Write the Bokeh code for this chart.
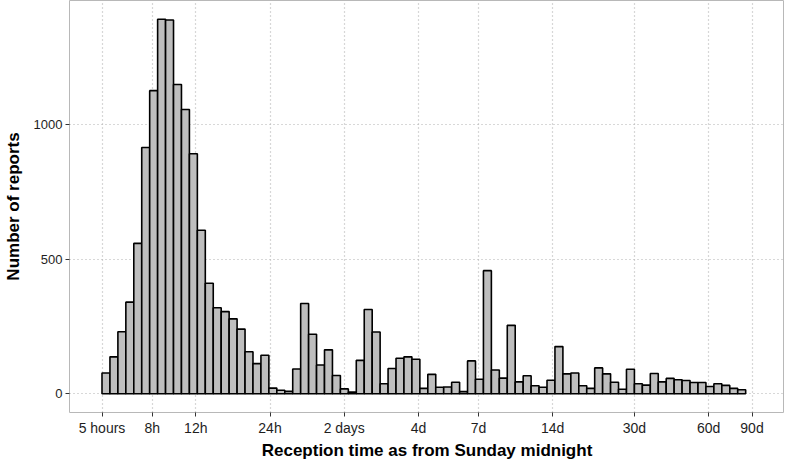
from bokeh.plotting import figure
from bokeh.models import FixedTicker, Range1d, Title
from bokeh.embed import file_html
from bokeh.resources import INLINE
import math

# ---- data ----
bin_start_hours = 5.0
bin_log10_width = 0.03222
counts = [77, 137, 230, 340, 558, 914, 1125, 1390, 1387, 1148,
          1055, 891, 607, 410, 319, 305, 278, 240, 156, 112,
          143, 21, 13, 9, 92, 335, 221, 107, 163, 68,
          18, 6, 124, 313, 229, 37, 94, 132, 137, 128,
          20, 72, 24, 25, 43, 8, 122, 54, 457, 88,
          58, 254, 44, 67, 30, 24, 50, 175, 74, 77,
          30, 20, 96, 74, 43, 17, 91, 37, 32, 75,
          44, 57, 52, 49, 42, 42, 27, 37, 31, 20, 15]
tick_hours = [5, 8, 12, 24, 48, 96, 168, 336, 720, 1440, 2160]
tick_labels = ["5 hours", "8h", "12h", "24h", "2 days", "4d", "7d", "14d", "30d", "60d", "90d"]
y_ticks = [0, 500, 1000]
x_title = "Reception time as from Sunday midnight"
y_title = "Number of reports"

edges = [bin_start_hours * 10 ** (k * bin_log10_width) for k in range(len(counts) + 1)]
lefts = edges[:-1]
rights = edges[1:]

# ggplot-like 5% expansion
lx0, lx1 = math.log10(tick_hours[0]), math.log10(tick_hours[-1])
dx = 0.05 * (lx1 - lx0)
ymax = max(counts)
dy = 0.05 * ymax

p = figure(width=784, height=459, x_axis_type="log",
           x_range=Range1d(10 ** (lx0 - dx), 10 ** (lx1 + dx)),
           y_range=Range1d(-dy, ymax + dy),
           output_backend="svg", toolbar_location=None,
           min_border_left=2, min_border_right=0, min_border_top=0, min_border_bottom=0)

p.quad(left=lefts, right=rights, bottom=0, top=counts,
       fill_color="#bebebe", line_color="black", line_width=1.6)

p.outline_line_color = "#b8b8b8"
p.outline_line_width = 1

p.xaxis.ticker = FixedTicker(ticks=tick_hours, minor_ticks=[])
p.xaxis.major_label_overrides = {t: l for t, l in zip(tick_hours, tick_labels)}
p.yaxis.ticker = FixedTicker(ticks=y_ticks, minor_ticks=[])

for ax in (p.xaxis, p.yaxis):
    ax.axis_line_color = None
    ax.major_tick_line_color = "#333333"
    ax.major_tick_line_width = 1
    ax.major_tick_out = 4
    ax.major_tick_in = 0
    ax.minor_tick_line_color = None
    ax.major_label_text_font = "Liberation Sans"
    ax.major_label_text_color = "#1e1e1e"
    ax.axis_label_text_font = "Liberation Sans"
    ax.axis_label_text_font_style = "bold"
    ax.axis_label_text_font_size = "17px"
    ax.axis_label_text_color = "black"

p.xaxis.major_label_text_font_size = "14px"
p.yaxis.major_label_text_font_size = "13px"
p.xaxis.major_label_standoff = 3
p.yaxis.major_label_standoff = 3
p.yaxis.axis_label = y_title
p.yaxis.axis_label_standoff = 8

p.add_layout(Title(text=x_title, align="center", text_font="Liberation Sans",
                   text_font_style="bold", text_font_size="17px", text_color="black",
                   standoff=0, offset=0), "below")

for g in (p.xgrid, p.ygrid):
    g.grid_line_color = "#b0b0b0"
    g.grid_line_dash = "1 3"
    g.grid_line_width = 1.2
    g.minor_grid_line_color = None
p.xgrid.ticker = FixedTicker(ticks=tick_hours)
p.ygrid.ticker = FixedTicker(ticks=y_ticks)

open("out.html", "w").write(file_html(p, INLINE))
